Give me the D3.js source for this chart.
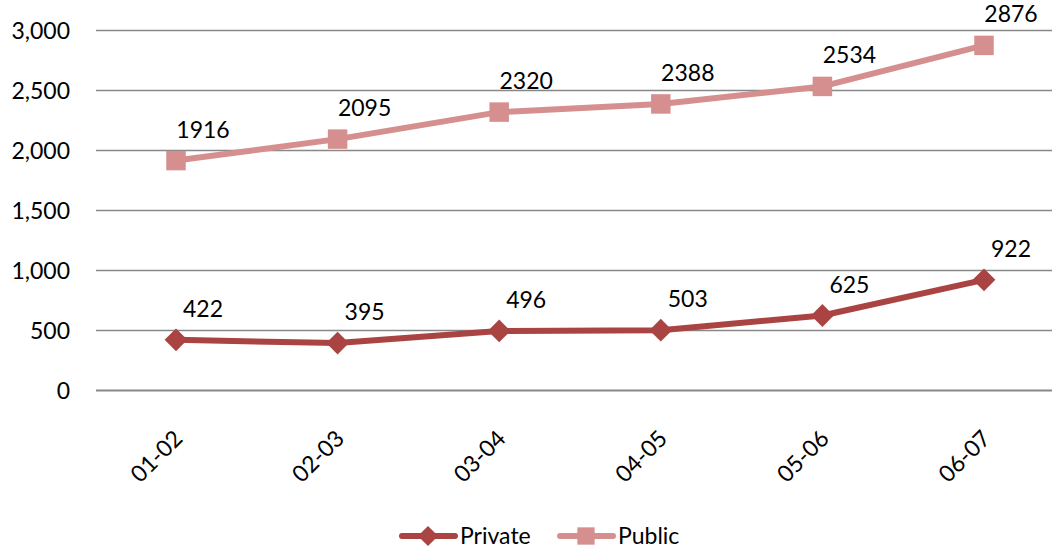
<!DOCTYPE html>
<html>
<head>
<meta charset="utf-8">
<script src="https://cdn.jsdelivr.net/npm/d3@7"></script>
<style>
  body { margin: 0; background: #fff; }
  svg text { font-family: Lato, "Noto Sans", sans-serif; fill: #000; }
</style>
</head>
<body>
<div id="chart"></div>
<script>
// chart data
const years = ["01-02", "02-03", "03-04", "04-05", "05-06", "06-07"];
const privateVals = [422, 395, 496, 503, 625, 922];
const publicVals = [1916, 2095, 2320, 2388, 2534, 2876];
const yTicks = [0, 500, 1000, 1500, 2000, 2500, 3000];

const seriesList = [
    {name: "Private", values: privateVals, color: "#A94442", marker: d3.symbolDiamond2},
    {name: "Public", values: publicVals, color: "#D58F8F", marker: d3.symbolSquare}
];

const width = 1052, height = 548;

const svg = d3.select("#chart").append("svg")
    .attr("width", width)
    .attr("height", height);

// plot area runs a little past the right edge, as in the original
const x = d3.scalePoint()
    .domain(years)
    .range([176, 984]);

const y = d3.scaleLinear()
    .domain([0, 3000])
    .range([390.5, 30.5]);

// gridlines
svg.append("g")
    .selectAll("line")
    .data(yTicks)
    .enter().append("line")
    .attr("x1", 96)
    .attr("x2", width)
    .attr("y1", d => y(d))
    .attr("y2", d => y(d))
    .style("stroke", "#888")
    .style("stroke-width", d => d === 0 ? 2 : 1.5);

// y axis labels
svg.append("g")
    .selectAll("text")
    .data(yTicks)
    .enter().append("text")
    .attr("x", 70)
    .attr("y", d => y(d) + 8)
    .attr("text-anchor", "end")
    .style("font-size", "23px")
    .text(d => d3.format(",")(d));

// x axis labels, rotated
svg.append("g")
    .selectAll("text")
    .data(years)
    .enter().append("text")
    .attr("text-anchor", "end")
    .attr("transform", d => "translate(" + (x(d) + 8) + ",440) rotate(-45)")
    .style("font-size", "23px")
    .text(d => d);

// lines, markers and value labels
const line = d3.line()
    .x((d, i) => x(years[i]))
    .y(d => y(d));

seriesList.forEach(s => {
    const g = svg.append("g");

    g.append("path")
        .datum(s.values)
        .attr("d", line)
        .attr("fill", "none")
        .style("stroke", s.color)
        .style("stroke-width", 6)
        .style("stroke-linejoin", "round");

    g.selectAll(".marker")
        .data(s.values)
        .enter().append("path")
        .attr("class", "marker")
        .attr("transform", (d, i) => "translate(" + x(years[i]) + "," + y(d) + ")")
        .attr("d", d3.symbol().type(s.marker).size(s.name === "Public" ? 380 : 330))
        .attr("fill", s.color);

    g.selectAll(".lbl")
        .data(s.values)
        .enter().append("text")
        .attr("class", "lbl")
        .attr("x", (d, i) => x(years[i]) + 27)
        .attr("y", d => y(d) - 23)
        .attr("text-anchor", "middle")
        .style("font-size", "23px")
        .text(d => d);
});

// legend
const legend = svg.append("g")
    .attr("transform", "translate(400,536)");

const legendItems = legend.selectAll("g")
    .data(seriesList)
    .enter().append("g")
    .attr("transform", (d, i) => "translate(" + (i * 158) + ",0)");

legendItems.append("line")
    .attr("x1", 2)
    .attr("x2", 55)
    .style("stroke", d => d.color)
    .style("stroke-width", 6)
    .style("stroke-linecap", "round");

legendItems.append("path")
    .attr("transform", "translate(28,0)")
    .attr("d", d => d3.symbol().type(d.marker).size(d.name === "Public" ? 300 : 260)())
    .attr("fill", d => d.color);

legendItems.append("text")
    .attr("x", 60)
    .attr("y", 8)
    .style("font-size", "23px")
    .text(d => d.name);
</script>
</body>
</html>
